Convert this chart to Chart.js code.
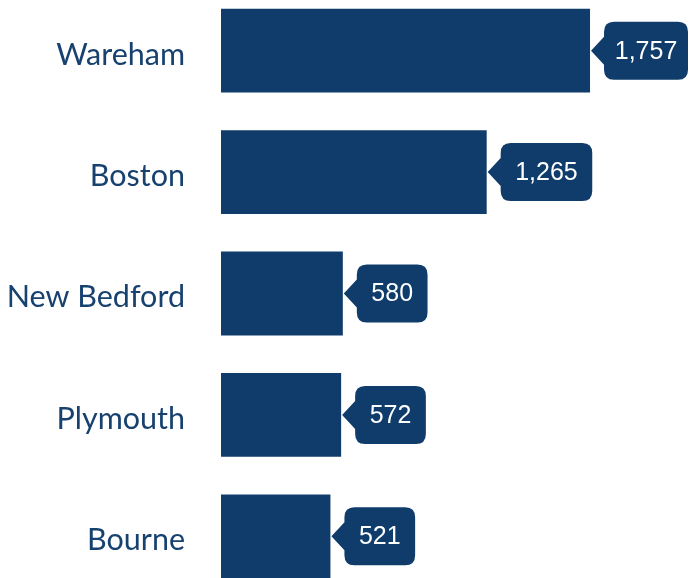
<!DOCTYPE html>
<html>
<head>
<meta charset="utf-8">
<script src="https://cdn.jsdelivr.net/npm/chart.js@4/dist/chart.umd.min.js"></script>
<style>
  html, body { margin: 0; padding: 0; background: #ffffff; overflow: hidden; width: 690px; height: 578px; }
  #wrap { position: absolute; left: 0; top: -10px; width: 690px; height: 607px; }
</style>
</head>
<body>
<div id="wrap"><canvas id="c"></canvas></div>
<script>
const categories = ["Wareham", "Boston", "New Bedford", "Plymouth", "Bourne"];
const values = [1757, 1265, 580, 572, 521];

const BAR_COLOR = "#0f3c6b";
const LABEL_COLOR = "#17416f";

const calloutPlugin = {
  id: "callouts",
  afterDatasetsDraw(chart) {
    const ctx = chart.ctx;
    const meta = chart.getDatasetMeta(0);
    const W = chart.width;
    ctx.save();
    ctx.font = "25px 'Liberation Sans', Arial, sans-serif";
    meta.data.forEach((bar, i) => {
      const txt = values[i].toLocaleString("en-US");
      const tw = ctx.measureText(txt).width;
      const tipX = bar.x + 1;
      const y = bar.y;
      const left = bar.x + 14;
      let right = left + tw + 29;
      if (right > W - 2) right = W - 2;
      const top = y - 29, bottom = y + 29, r = 10;
      ctx.fillStyle = BAR_COLOR;
      ctx.beginPath();
      ctx.moveTo(left + r, top);
      ctx.lineTo(right - r, top);
      ctx.quadraticCurveTo(right, top, right, top + r);
      ctx.lineTo(right, bottom - r);
      ctx.quadraticCurveTo(right, bottom, right - r, bottom);
      ctx.lineTo(left + r, bottom);
      ctx.quadraticCurveTo(left, bottom, left, bottom - r);
      ctx.lineTo(left, y + 14);
      ctx.lineTo(tipX, y);
      ctx.lineTo(left, y - 14);
      ctx.lineTo(left, top + r);
      ctx.quadraticCurveTo(left, top, left + r, top);
      ctx.closePath();
      ctx.fill();
      ctx.fillStyle = "#ffffff";
      ctx.textAlign = "center";
      ctx.textBaseline = "middle";
      ctx.fillText(txt, (left + right) / 2, y + 1);
    });
    ctx.restore();
  }
};

new Chart(document.getElementById("c"), {
  type: "bar",
  data: {
    labels: categories,
    datasets: [{
      data: values,
      backgroundColor: BAR_COLOR,
      borderWidth: 0,
      categoryPercentage: 1,
      barPercentage: 0.69
    }]
  },
  options: {
    indexAxis: "y",
    responsive: true,
    maintainAspectRatio: false,
    animation: false,
    layout: { padding: 0 },
    plugins: { legend: { display: false }, tooltip: { enabled: false } },
    scales: {
      x: { display: false, min: 0, max: 2233 },
      y: {
        grid: { display: false, drawTicks: false },
        border: { display: false },
        ticks: {
          color: LABEL_COLOR,
          padding: 36,
          labelOffset: 4,
          font: { family: "Lato", size: 30.5 }
        },
        afterFit(scale) {
          scale.width = 221;
          scale.paddingTop = 0;
          scale.paddingBottom = 0;
        }
      }
    }
  },
  plugins: [calloutPlugin]
});
</script>
</body>
</html>
